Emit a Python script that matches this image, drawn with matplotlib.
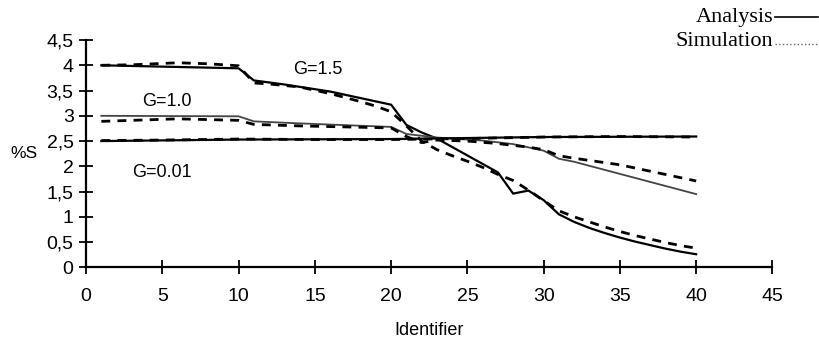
import matplotlib
matplotlib.use("Agg")
import matplotlib.pyplot as plt
from matplotlib.lines import Line2D

# --- valores (puntos de quiebre) ---
# G=1.5
x15_ana = [1, 10, 11, 13, 16, 18, 20, 21, 22, 23, 27, 28, 29, 30, 31, 32, 33, 34, 35, 36, 37, 38, 39, 40]
y15_ana = [4.00, 3.94, 3.70, 3.62, 3.48, 3.35, 3.22, 2.82, 2.67, 2.55, 1.88, 1.46, 1.52, 1.33, 1.05,
           0.90, 0.78, 0.68, 0.59, 0.51, 0.44, 0.37, 0.31, 0.26]
x15_sim = [1, 3, 6, 8, 10, 11, 12, 14, 16, 18, 19, 20, 21, 22, 23, 24, 25, 26, 27, 28, 29, 30, 31,
           32, 33, 34, 35, 36, 37, 38, 39, 40]
y15_sim = [4.00, 4.01, 4.05, 4.03, 3.99, 3.65, 3.63, 3.57, 3.44, 3.28, 3.19, 3.08, 2.80, 2.50, 2.33,
           2.21, 2.10, 1.98, 1.84, 1.72, 1.53, 1.32, 1.12, 1.00, 0.90, 0.80, 0.71, 0.63, 0.56, 0.49,
           0.43, 0.38]

# G=1.0
x10_ana = [1, 10, 11, 14, 20, 21, 23, 26, 28, 30, 31, 32, 33, 34, 35, 36, 37, 38, 39, 40]
y10_ana = [3.00, 2.99, 2.89, 2.85, 2.78, 2.64, 2.57, 2.51, 2.44, 2.31, 2.15, 2.09, 2.01, 1.93, 1.85,
           1.77, 1.69, 1.61, 1.53, 1.45]
x10_sim = [1, 6, 10, 11, 14, 20, 21, 22, 23, 25, 27, 29, 30, 31, 32, 35, 40]
y10_sim = [2.89, 2.94, 2.91, 2.83, 2.80, 2.76, 2.59, 2.47, 2.52, 2.50, 2.45, 2.38, 2.33, 2.21, 2.16,
           2.03, 1.71]

# G=0.01
x001_ana = [1, 10, 20, 25, 30, 40]
y001_ana = [2.50, 2.53, 2.54, 2.56, 2.58, 2.59]
x001_sim = [1, 5, 10, 15, 20, 25, 30, 35, 40]
y001_sim = [2.51, 2.52, 2.54, 2.53, 2.53, 2.55, 2.58, 2.59, 2.58]

xticks = list(range(0, 50, 5))
yticks = [0, 0.5, 1, 1.5, 2, 2.5, 3, 3.5, 4, 4.5]
ytick_labels = ["0", "0,5", "1", "1,5", "2", "2,5", "3", "3,5", "4", "4,5"]

plt.rcParams['font.family'] = ['Liberation Sans', 'DejaVu Sans']

fig = plt.figure(figsize=(8.2, 3.45), dpi=100)
ax = fig.add_axes([0.105, 0.225, 0.837, 0.659])

dash = (0, (3.2, 2.6))
ax.plot(x15_ana, y15_ana, color="black", lw=1.6)
ax.plot(x15_sim, y15_sim, color="black", lw=2.0, linestyle=dash)
ax.plot(x10_ana, y10_ana, color="#444444", lw=1.3)
ax.plot(x10_sim, y10_sim, color="black", lw=2.0, linestyle=dash)
ax.plot(x001_ana, y001_ana, color="black", lw=1.6)
ax.plot(x001_sim, y001_sim, color="black", lw=2.0, linestyle=dash)

ax.text(15.2, 3.92, "G=1.5", fontsize=13, ha="center", va="center")
ax.text(5.3, 3.28, "G=1.0", fontsize=13, ha="center", va="center")
ax.text(5.0, 1.88, "G=0.01", fontsize=13, ha="center", va="center")

ax.set_xlim(0, 45)
ax.set_ylim(0, 4.5)
ax.set_xticks(xticks)
ax.set_yticks(yticks)
ax.set_yticklabels(ytick_labels)
ax.tick_params(direction="inout", length=10, width=1.3, labelsize=14)
ax.tick_params(axis="x", pad=10)
ax.tick_params(axis="y", pad=4)
for s in ["top", "right"]:
    ax.spines[s].set_visible(False)
for s in ["left", "bottom"]:
    ax.spines[s].set_linewidth(1.6)

ax.set_xlabel("Identifier", fontsize=13, labelpad=12)
ax.set_ylabel("%S", fontsize=12.5, rotation=0, labelpad=16, va="center")

# leyenda a la derecha arriba (texto antes de la línea)
fig.text(0.943, 0.935, "Analysis", fontsize=16, family="Liberation Serif", ha="right", va="baseline")
fig.text(0.943, 0.868, "Simulation", fontsize=16, family="Liberation Serif", ha="right", va="baseline")
fig.add_artist(Line2D([0.945, 0.998], [0.950, 0.950], color="black", lw=1.2, transform=fig.transFigure))
fig.add_artist(Line2D([0.945, 0.998], [0.872, 0.872], color="#666666", lw=1.0, linestyle=":",
                      transform=fig.transFigure))

fig.savefig("out.png", dpi=100)
